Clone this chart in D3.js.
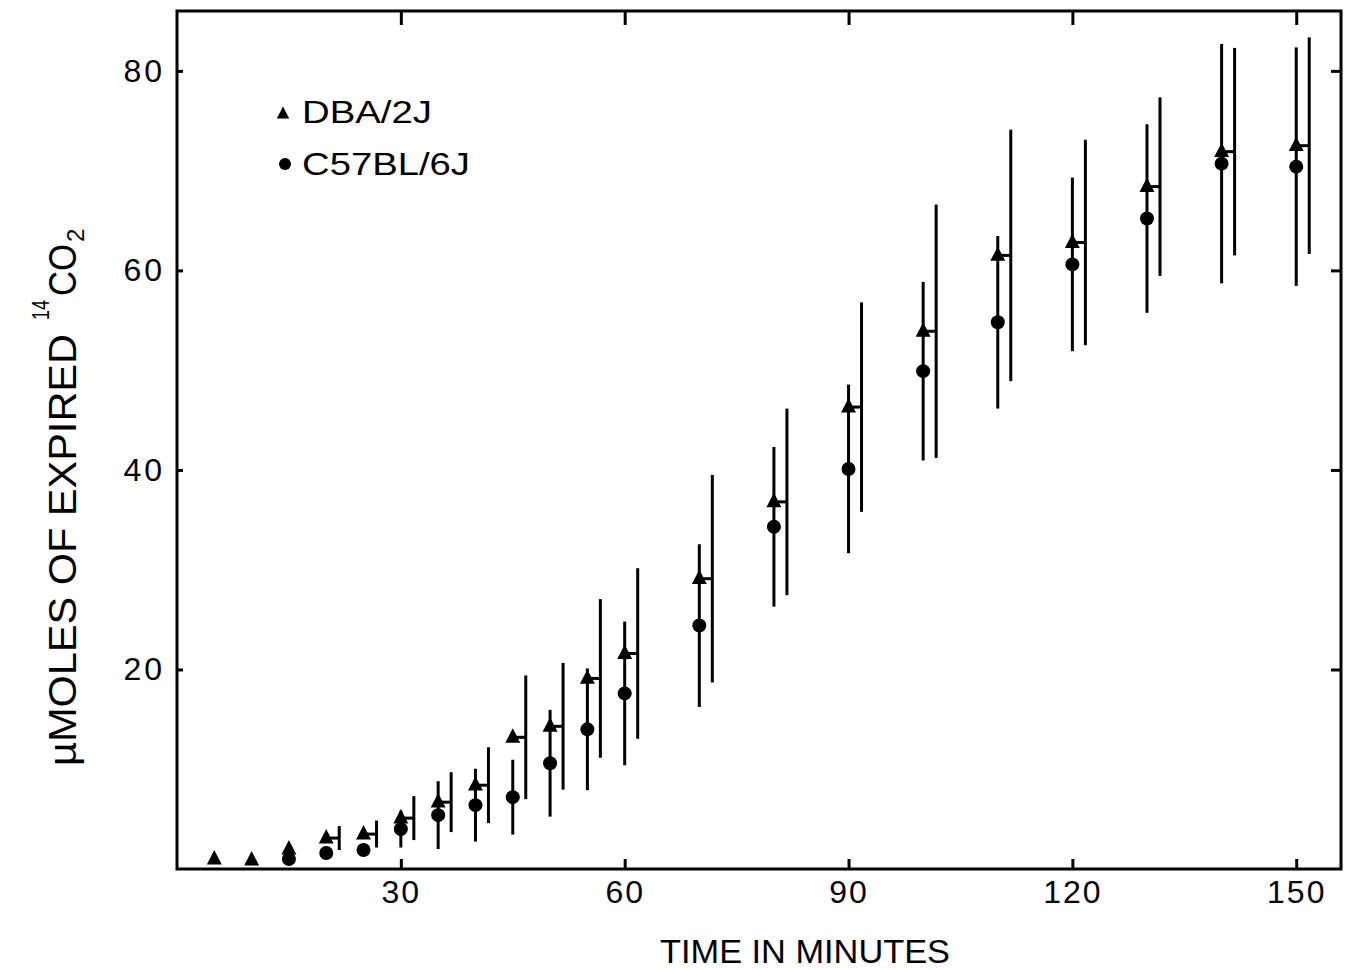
<!DOCTYPE html>
<html>
<head>
<meta charset="utf-8">
<script src="https://cdn.jsdelivr.net/npm/d3@7"></script>
<style>
  html, body { margin: 0; padding: 0; background: #fff; }
  svg { display: block; }
</style>
</head>
<body>
<svg id="chart" width="1353" height="970"></svg>
<script>
// ---- data ----
const times   = [5, 10, 15, 20, 25, 30, 35, 40, 45, 50, 55, 60, 70, 80, 90, 100, 110, 120, 130, 140, 150];
const dbaMean = [1.0, 0.9, 2.0, 3.1, 3.5, 5.1, 6.7, 8.4, 13.2, 14.3, 19.1, 21.6, 29.1, 36.8, 46.3, 53.9, 61.5, 62.8, 68.4, 71.9, 72.5];
const dbaSD   = [null, null, null, 1.2, 1.35, 2.2, 3.0, 3.8, 6.2, 6.35, 7.95, 8.55, 10.4, 9.35, 10.5, 12.7, 12.6, 10.3, 8.95, 10.4, 10.85];
const c57Mean = [null, null, 1.0, 1.6, 1.9, 4.0, 5.4, 6.4, 7.2, 10.6, 14.0, 17.6, 24.4, 34.3, 40.1, 49.9, 54.8, 60.6, 65.2, 70.7, 70.4];
const c57SD   = [null, null, null, 0.4, 0.4, 1.85, 3.4, 3.65, 3.75, 5.35, 6.1, 7.2, 8.15, 8.0, 8.45, 8.95, 8.65, 8.7, 9.45, 12.0, 11.95];
const xTicks  = [30, 60, 90, 120, 150];
const yTicks  = [20, 40, 60, 80];
const seriesNames = ["DBA/2J", "C57BL/6J"];
const xTitle = "TIME IN MINUTES";

// ---- layout ----
const svg = d3.select("#chart");
const L = 177, R = 1341, T = 11, B = 869;
const x = d3.scaleLinear().domain([0, 156]).range([L, R]);
const y = d3.scaleLinear().domain([0, 86]).range([B, T]);
const SW = 3;
const OFFSET = 13; // horizontal offset of the DBA/2J error bar (px)
const font = "'Liberation Sans', Arial, sans-serif";

// frame
svg.append("rect").attr("x", L).attr("y", T).attr("width", R - L).attr("height", B - T)
  .attr("fill", "none").attr("stroke", "#000").attr("stroke-width", SW);

function styleAxis(g) {
  g.select(".domain").remove();
  g.selectAll(".tick line").attr("stroke", "#000").attr("stroke-width", SW);
  g.selectAll(".tick text").attr("fill", "#000").attr("font-family", font);
}

// bottom axis with labels
svg.append("g").attr("transform", `translate(0,${B})`)
  .call(d3.axisBottom(x).tickValues(xTicks).tickSizeInner(-10).tickSizeOuter(0).tickPadding(11).tickFormat(d3.format("d")))
  .call(styleAxis)
  .call(g => g.selectAll(".tick text").attr("font-size", 32).attr("letter-spacing", 2));
// top axis ticks
svg.append("g").attr("transform", `translate(0,${T})`)
  .call(d3.axisTop(x).tickValues(xTicks).tickSizeInner(-14).tickSizeOuter(0).tickFormat(""))
  .call(styleAxis);
// left axis with labels
svg.append("g").attr("transform", `translate(${L},0)`)
  .call(d3.axisLeft(y).tickValues(yTicks).tickSizeInner(-6).tickSizeOuter(0).tickPadding(12).tickFormat(d3.format("d")))
  .call(styleAxis)
  .call(g => g.selectAll(".tick text").attr("font-size", 32).attr("letter-spacing", 3));
// right axis ticks
svg.append("g").attr("transform", `translate(${R},0)`)
  .call(d3.axisRight(y).tickValues(yTicks).tickSizeInner(-10).tickSizeOuter(0).tickFormat(""))
  .call(styleAxis);

// ---- data rows ----
const rows = times.map((t, i) => ({
  t, dm: dbaMean[i], ds: dbaSD[i], cm: c57Mean[i], cs: c57SD[i]
}));

const marks = svg.append("g");

// C57 error bars (through the circle)
marks.selectAll("line.cbar").data(rows.filter(d => d.cm != null && d.cs != null)).join("line")
  .attr("class", "cbar")
  .attr("x1", d => x(d.t)).attr("x2", d => x(d.t))
  .attr("y1", d => y(d.cm + d.cs)).attr("y2", d => y(d.cm - d.cs))
  .attr("stroke", "#000").attr("stroke-width", SW);

// DBA connectors and offset error bars
const dRows = rows.filter(d => d.ds != null);
marks.selectAll("line.dconn").data(dRows).join("line")
  .attr("class", "dconn")
  .attr("x1", d => x(d.t)).attr("x2", d => x(d.t) + OFFSET)
  .attr("y1", d => y(d.dm)).attr("y2", d => y(d.dm))
  .attr("stroke", "#000").attr("stroke-width", SW);
marks.selectAll("line.dbar").data(dRows).join("line")
  .attr("class", "dbar")
  .attr("x1", d => x(d.t) + OFFSET).attr("x2", d => x(d.t) + OFFSET)
  .attr("y1", d => y(d.dm + d.ds)).attr("y2", d => y(d.dm - d.ds))
  .attr("stroke", "#000").attr("stroke-width", SW);

// symbols
const tri = {
  draw(ctx, size) {
    const w = Math.sqrt(size) * 0.62, h = Math.sqrt(size) * 0.75;
    ctx.moveTo(0, -h);
    ctx.lineTo(w, h * 0.6);
    ctx.lineTo(-w, h * 0.6);
    ctx.closePath();
  }
};
marks.selectAll("circle.c57").data(rows.filter(d => d.cm != null)).join("circle")
  .attr("class", "c57")
  .attr("cx", d => x(d.t)).attr("cy", d => y(d.cm)).attr("r", 7).attr("fill", "#000");
marks.selectAll("path.dba").data(rows).join("path")
  .attr("class", "dba")
  .attr("transform", d => `translate(${x(d.t)},${y(d.dm)})`)
  .attr("d", d3.symbol(tri, 145)).attr("fill", "#000");

// ---- legend ----
const lg = svg.append("g");
lg.append("path").attr("transform", "translate(283,114)").attr("d", d3.symbol(tri, 100)).attr("fill", "#000");
lg.append("circle").attr("cx", 285).attr("cy", 164).attr("r", 6).attr("fill", "#000");
lg.append("text").attr("x", 302).attr("y", 123).text(seriesNames[0])
  .attr("font-family", font).attr("font-size", 31).attr("textLength", 130).attr("lengthAdjust", "spacingAndGlyphs");
lg.append("text").attr("x", 302).attr("y", 175).text(seriesNames[1])
  .attr("font-family", font).attr("font-size", 31).attr("textLength", 168).attr("lengthAdjust", "spacingAndGlyphs");

// ---- axis titles ----
svg.append("text").attr("x", 660).attr("y", 963).text(xTitle)
  .attr("font-family", font).attr("font-size", 33).attr("textLength", 290).attr("lengthAdjust", "spacingAndGlyphs");

const yt = svg.append("g").attr("transform", "translate(76,0) rotate(-90)")
  .attr("font-family", font).attr("fill", "#000");
yt.append("text").attr("x", -766).attr("y", 0).text("\u00B5MOLES OF EXPIRED")
  .attr("font-size", 38).attr("textLength", 432).attr("lengthAdjust", "spacingAndGlyphs");
yt.append("text").attr("x", -320).attr("y", -27).text("14")
  .attr("font-size", 24).attr("textLength", 20).attr("lengthAdjust", "spacingAndGlyphs");
yt.append("text").attr("x", -296).attr("y", 0).text("CO")
  .attr("font-size", 38).attr("textLength", 52).attr("lengthAdjust", "spacingAndGlyphs");
yt.append("text").attr("x", -242).attr("y", 8).text("2")
  .attr("font-size", 24);
</script>
</body>
</html>
